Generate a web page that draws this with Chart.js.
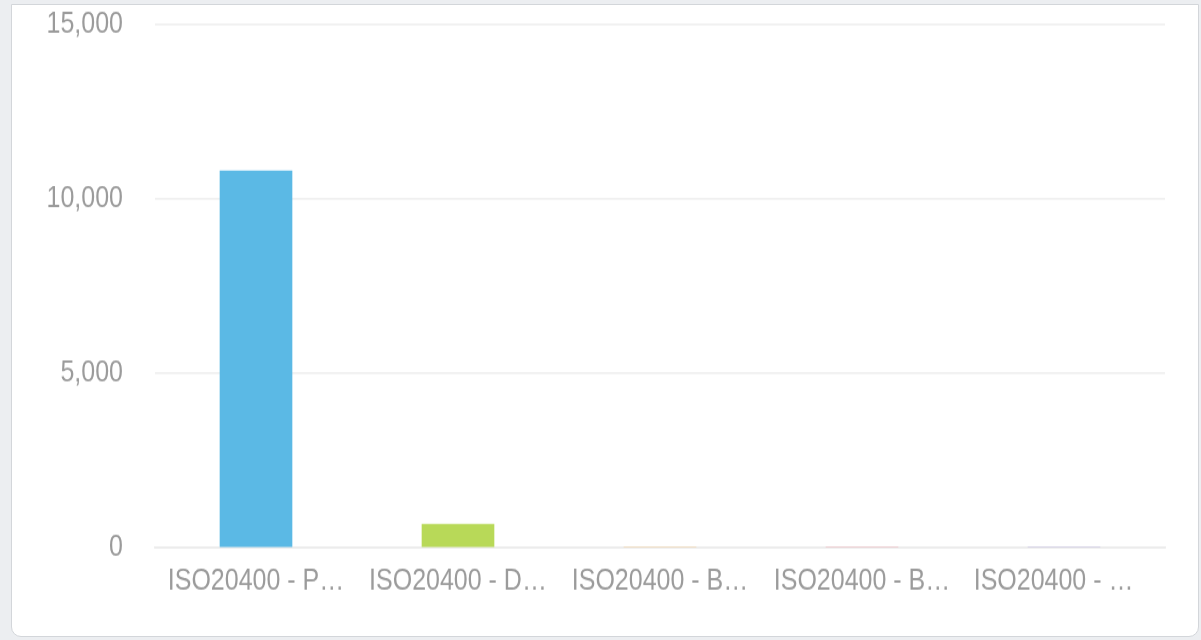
<!DOCTYPE html>
<html>
<head>
<meta charset="utf-8">
<script src="https://cdn.jsdelivr.net/npm/chart.js@4/dist/chart.umd.min.js"></script>
<style>
  html, body {
    margin: 0;
    padding: 0;
    width: 1201px;
    height: 640px;
    overflow: hidden;
    background: #eceef1;
  }
  .card {
    position: absolute;
    left: 11px;
    top: 4px;
    width: 1186px;
    height: 631px;
    background: #fff;
    border: 1px solid #d3d6da;
    border-radius: 0 0 10px 10px;
  }
  /* the chart is laid out at a shorter height and stretched to fill the card */
  .chart-box {
    position: absolute;
    left: 0;
    top: 0;
    width: 1201px;
    height: 547px;
    transform: scaleY(1.17);
    transform-origin: 0 0;
  }
</style>
</head>
<body>
<div class="card"></div>
<div class="chart-box"><canvas id="chart"></canvas></div>
<script>
const categories = [
  "ISO20400 - P…",
  "ISO20400 - D…",
  "ISO20400 - B…",
  "ISO20400 - B…",
  "ISO20400 - …   ",
];
const values = [10800, 670, 0, 0, 0];
const barColors = ["#5bb9e5", "#b8d958", "#f4a93c", "#e5687a", "#8c7bc9"];
const yTicks = [0, 5000, 10000, 15000];

const FONT = '"Liberation Sans", Arial, Helvetica, sans-serif';
const TEXT = "#9b9b9b";
const GRID = "#f0f0f0";

new Chart(document.getElementById("chart"), {
  type: "bar",
  data: {
    labels: categories,
    datasets: [
      {
        data: values,
        backgroundColor: barColors,
        borderWidth: 0,
        barThickness: 72,
      },
    ],
  },
  options: {
    responsive: true,
    maintainAspectRatio: false,
    animation: false,
    layout: {
      padding: { top: 21, right: 36, bottom: 35, left: 0 },
    },
    plugins: {
      legend: { display: false },
      tooltip: { enabled: false },
    },
    scales: {
      x: {
        grid: { display: false, drawTicks: false },
        border: { display: true, color: "#ececec", width: 1.7 },
        ticks: {
          color: TEXT,
          font: { family: FONT, size: 25 },
          padding: 14,
          maxRotation: 0,
          autoSkip: false,
        },
        afterFit: (scale) => {
          scale.height = 44;
        },
      },
      y: {
        min: yTicks[0],
        max: yTicks[yTicks.length - 1],
        // hidden tick marks keep the labels away from the plot
        grid: {
          color: GRID,
          lineWidth: 1.7,
          drawTicks: true,
          tickLength: 30,
          tickColor: "rgba(0,0,0,0)",
        },
        border: { display: false },
        afterBuildTicks: (scale) => {
          scale.ticks = yTicks.map((v) => ({ value: v }));
        },
        ticks: {
          color: TEXT,
          font: { family: FONT, size: 25 },
          padding: 2,
          callback: (v) => v.toLocaleString("en-US"),
        },
        afterFit: (scale) => {
          scale.width = 155;
        },
      },
    },
  },
});
</script>
</body>
</html>
